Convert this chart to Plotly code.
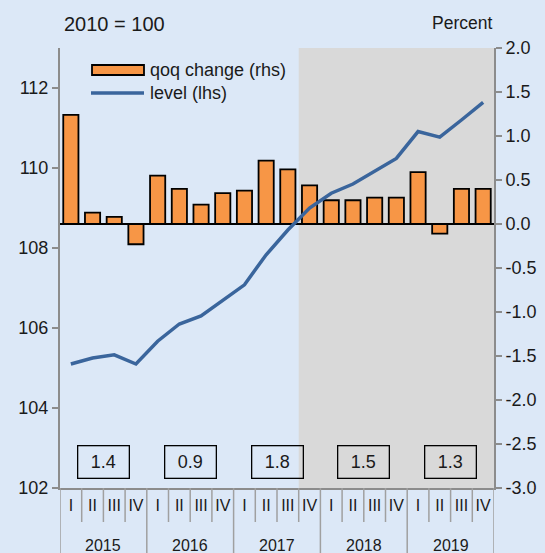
import plotly.graph_objects as go

quarters = ["I", "II", "III", "IV"] * 5
years = ["2015", "2016", "2017", "2018", "2019"]
annual_growth = ["1.4", "0.9", "1.8", "1.5", "1.3"]

qoq_change = [1.24, 0.13, 0.08, -0.23, 0.55, 0.40, 0.22, 0.35, 0.38, 0.72, 0.62,
              0.44, 0.27, 0.27, 0.30, 0.30, 0.59, -0.11, 0.40, 0.40]
level = [105.1, 105.25, 105.33, 105.1, 105.67, 106.1, 106.3, 106.7, 107.08, 107.83,
         108.45, 109.0, 109.37, 109.6, 109.91, 110.24, 110.91, 110.77, 111.2, 111.64]

left_ticks = [102, 104, 106, 108, 110, 112]
right_ticks = [-3.0, -2.5, -2.0, -1.5, -1.0, -0.5, 0.0, 0.5, 1.0, 1.5, 2.0]
right_tick_labels = ["-3.0", "-2.5", "-2.0", "-1.5", "-1.0", "-0.5", "0.0", "0.5", "1.0", "1.5", "2.0"]

FONT = "Liberation Sans, Arial, sans-serif"
TXT = "#1a1a1a"
BG = "#DCE8F7"
AXC = "#8C8C8C"
x = list(range(len(quarters)))

fig = go.Figure()
fig.add_trace(go.Bar(x=x, y=qoq_change, yaxis="y", marker=dict(color="#F79646", line=dict(color="black", width=1.8)),
                     showlegend=False))
fig.add_trace(go.Scatter(x=x, y=level, yaxis="y2", mode="lines", line=dict(color="#3A659C", width=3.5),
                         showlegend=False))

shapes = []
shapes.append(dict(type="rect", xref="x", yref="paper", x0=10.5, x1=19.5, y0=0, y1=1,
                   fillcolor="#D9D9D9", line=dict(width=0), layer="below"))
py = lambda p: (488 - p) / 440
for i in range(len(quarters) + 1):
    yb = py(553) if i % 4 == 0 else py(522)
    shapes.append(dict(type="line", xref="x", yref="paper", x0=i - 0.5, x1=i - 0.5, y0=0, y1=yb,
                       line=dict(color="#A0A0A0", width=1.5)))
px = lambda p: (p - 60) / 434
shapes.append(dict(type="rect", xref="paper", yref="paper", x0=px(92), x1=px(144), y0=py(75), y1=py(65),
                   fillcolor="#F79646", line=dict(color="black", width=1.8)))
shapes.append(dict(type="line", xref="paper", yref="paper", x0=px(91), x1=px(144), y0=py(93), y1=py(93),
                   line=dict(color="#3A659C", width=3.5)))

annotations = []
annotations.append(dict(text="qoq change (rhs)", xref="paper", yref="paper", x=px(148), y=py(70),
                        xanchor="left", yanchor="middle", showarrow=False, font=dict(size=18, color=TXT, family=FONT)))
annotations.append(dict(text="level (lhs)", xref="paper", yref="paper", x=px(148), y=py(93),
                        xanchor="left", yanchor="middle", showarrow=False, font=dict(size=18, color=TXT, family=FONT)))
annotations.append(dict(text="2010 = 100", xref="paper", yref="paper", x=px(62), y=py(24),
                        xanchor="left", yanchor="middle", showarrow=False, font=dict(size=20, color=TXT, family=FONT)))
annotations.append(dict(text="Percent", xref="paper", yref="paper", x=px(494), y=py(23),
                        xanchor="right", yanchor="middle", showarrow=False, font=dict(size=17.5, color=TXT, family=FONT)))
for k, (yr, g) in enumerate(zip(years, annual_growth)):
    xc = 4 * k + 1.5
    annotations.append(dict(text=yr, xref="x", yref="paper", x=xc, y=py(545), xanchor="center", yanchor="middle",
                            showarrow=False, font=dict(size=16, color=TXT, family=FONT)))
    annotations.append(dict(text=g, xref="x", yref="paper", x=xc, y=py(462), xanchor="center", yanchor="middle",
                            showarrow=False, font=dict(size=18, color=TXT, family=FONT),
                            bordercolor="black", borderwidth=1.3, borderpad=2, width=46, height=27))

fig.update_layout(
    width=545, height=553,
    margin=dict(l=60, r=51, t=48, b=65, autoexpand=False),
    paper_bgcolor=BG, plot_bgcolor=BG,
    font=dict(family=FONT, size=18, color=TXT),
    bargap=0.3,
    shapes=shapes, annotations=annotations,
    xaxis=dict(range=[-0.5, 19.5], tickvals=x, ticktext=quarters, showgrid=False, zeroline=False,
               showline=True, linecolor=AXC, linewidth=2, ticks="", tickfont=dict(size=16),
               ticklabelstandoff=2),
    yaxis=dict(side="right", range=[-3, 2], tickvals=right_ticks, ticktext=right_tick_labels,
               showgrid=False, zeroline=True, zerolinecolor="black", zerolinewidth=1.5,
               showline=True, linecolor=AXC, linewidth=2, ticks="outside", ticklen=6, tickcolor=AXC,
               tickwidth=1.5, tickfont=dict(size=18)),
    yaxis2=dict(side="left", overlaying="y", range=[102, 113], tickvals=left_ticks, showgrid=False,
                zeroline=False, showline=True, linecolor=AXC, linewidth=2, ticks="outside", ticklen=6,
                tickcolor=AXC, tickwidth=1.5, tickfont=dict(size=18)),
)

fig.write_html("out.html", config={"displayModeBar": False},
               post_script="document.body.style.margin='0';document.body.style.overflow='hidden';"
                           "document.documentElement.style.overflow='hidden';")
